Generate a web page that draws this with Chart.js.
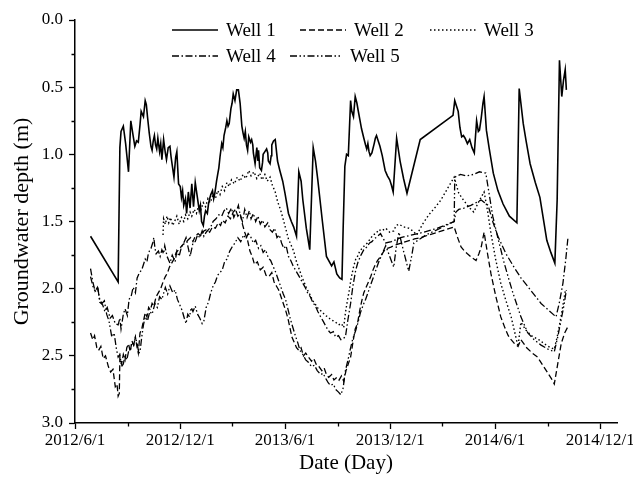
<!DOCTYPE html>
<html>
<head>
<meta charset="utf-8">
<script src="https://cdn.jsdelivr.net/npm/chart.js@4"></script>
<style>
  html, body { margin: 0; padding: 0; background: #fff; }
  canvas { display: block; }
</style>
</head>
<body>
<canvas id="chart" width="633" height="488"></canvas>
<script>
// x values are days after 2012/6/1, y values are groundwater depth in metres
const startDate = '2012/6/1';
const endDate = '2014/12/30';
const xTickLabels = ['2012/6/1', '2012/12/1', '2013/6/1', '2013/12/1', '2014/6/1', '2014/12/1'];
const xMinorLabels = ['2012/9/1', '2013/3/1', '2013/9/1', '2014/3/1', '2014/9/1'];
const yTicks = [0, 0.5, 1, 1.5, 2, 2.5, 3];
const yMinorTicks = [0.25, 0.75, 1.25, 1.75, 2.25, 2.75];
const wellNames = ['Well 1', 'Well 2', 'Well 3', 'Well 4', 'Well 5'];

const well1 = [[27,1.61],[75,1.95],[78,0.95],[80,0.83],[84,0.79],[88,0.92],[93,1.13],[97,0.75],[101,0.86],[104,0.94],[107,0.90],[110,0.91],[113,0.78],[115,0.68],[119,0.72],[122,0.60],[124,0.63],[126,0.72],[129,0.84],[132,0.94],[134,0.97],[136,0.90],[138,0.86],[140,0.93],[142,0.96],[144,0.88],[147,0.98],[149,0.92],[151,1.04],[154,0.89],[157,0.99],[159,1.04],[162,0.95],[165,0.94],[167,1.02],[169,1.08],[172,1.17],[175,1.02],[177,0.98],[180,1.22],[183,1.24],[185,1.32],[187,1.27],[189,1.38],[192,1.33],[194,1.44],[197,1.28],[200,1.40],[203,1.22],[206,1.39],[209,1.21],[212,1.30],[214,1.36],[216,1.42],[218,1.38],[220,1.50],[223,1.53],[225,1.46],[227,1.42],[230,1.44],[232,1.37],[234,1.33],[236,1.30],[239,1.27],[241,1.33],[243,1.29],[246,1.20],[248,1.15],[250,1.10],[252,1.02],[255,0.92],[257,0.95],[259,0.86],[262,0.80],[264,0.75],[266,0.79],[268,0.77],[271,0.66],[273,0.62],[275,0.55],[278,0.60],[281,0.52],[284,0.52],[287,0.62],[290,0.79],[292,0.84],[294,0.88],[296,0.83],[298,0.93],[300,0.97],[302,0.87],[305,0.91],[307,0.89],[309,0.93],[310,0.99],[313,1.07],[316,0.95],[318,1.05],[319,0.97],[321,1.10],[324,1.12],[326,1.06],[327,1.00],[330,0.98],[333,0.96],[335,0.99],[336,1.05],[339,1.07],[341,1.01],[342,0.93],[345,0.90],[348,0.89],[352,1.05],[356,1.12],[361,1.20],[365,1.29],[371,1.44],[376,1.50],[380,1.54],[385,1.61],[389,1.13],[393,1.20],[396,1.34],[402,1.55],[408,1.71],[414,0.95],[418,1.05],[422,1.19],[430,1.50],[437,1.76],[446,1.83],[450,1.80],[455,1.89],[460,1.92],[464,1.93],[466,1.56],[469,1.09],[472,1.00],[475,1.01],[479,0.60],[481,0.68],[484,0.72],[487,0.57],[490,0.62],[492,0.67],[495,0.74],[498,0.81],[502,0.88],[505,0.93],[507,0.96],[509,0.92],[511,0.98],[513,1.01],[516,0.99],[520,0.92],[522,0.88],[524,0.86],[527,0.90],[530,0.94],[534,1.01],[539,1.12],[543,1.16],[547,1.19],[550,1.23],[553,1.28],[559,0.88],[565,1.05],[571,1.18],[577,1.29],[600,0.89],[657,0.71],[660,0.60],[663,0.64],[666,0.68],[669,0.80],[672,0.87],[675,0.86],[678,0.88],[682,0.92],[686,0.89],[690,0.95],[694,0.99],[698,0.75],[701,0.83],[703,0.82],[706,0.73],[709,0.62],[711,0.57],[715,0.82],[720,0.96],[727,1.14],[735,1.27],[744,1.37],[755,1.46],[768,1.51],[772,0.51],[775,0.62],[779,0.77],[784,0.90],[791,1.07],[800,1.21],[808,1.32],[814,1.48],[820,1.64],[827,1.73],[834,1.81],[838,1.34],[842,0.30],[846,0.57],[849,0.45],[852,0.37],[854,0.52]];

const well2 = [[27,2.33],[31,2.38],[34,2.35],[38,2.44],[41,2.46],[45,2.43],[49,2.52],[53,2.50],[58,2.58],[62,2.62],[66,2.60],[70,2.73],[73,2.71],[75,2.80],[77,2.78],[78,2.51],[81,2.56],[84,2.49],[87,2.53],[90,2.44],[93,2.41],[96,2.47],[99,2.39],[102,2.42],[105,2.36],[108,2.44],[110,2.48],[113,2.33],[116,2.30],[119,2.24],[122,2.18],[125,2.21],[128,2.14],[131,2.16],[134,2.11],[137,2.13],[141,2.06],[145,2.03],[149,2.00],[153,1.95],[157,1.91],[161,1.88],[164,1.84],[168,1.81],[172,1.78],[176,1.73],[180,1.71],[184,1.69],[188,1.67],[192,1.66],[196,1.64],[201,1.62],[205,1.65],[209,1.61],[214,1.59],[219,1.61],[224,1.57],[229,1.56],[234,1.58],[239,1.54],[244,1.55],[249,1.51],[253,1.53],[256,1.49],[261,1.51],[266,1.46],[270,1.48],[275,1.43],[279,1.41],[283,1.46],[287,1.44],[291,1.52],[295,1.58],[300,1.64],[304,1.72],[308,1.76],[312,1.82],[317,1.80],[322,1.86],[327,1.84],[332,1.90],[337,1.91],[342,1.88],[346,1.95],[350,1.98],[354,2.01],[358,2.06],[362,2.11],[366,2.16],[370,2.22],[374,2.30],[377,2.36],[381,2.40],[385,2.44],[389,2.46],[393,2.44],[397,2.50],[401,2.48],[406,2.51],[411,2.54],[415,2.52],[420,2.57],[424,2.58],[429,2.61],[433,2.59],[437,2.64],[441,2.66],[446,2.64],[450,2.68],[455,2.66],[459,2.68],[463,2.65],[467,2.69],[471,2.61],[475,2.56],[479,2.51],[483,2.40],[487,2.30],[491,2.26],[495,2.16],[499,2.08],[502,2.03],[506,1.99],[510,1.95],[514,1.91],[518,1.86],[522,1.82],[526,1.79],[531,1.76],[537,1.72],[543,1.70],[549,1.69],[560,1.67],[575,1.65],[590,1.63],[601,1.62],[615,1.60],[630,1.58],[645,1.56],[659,1.54],[665,1.62],[671,1.69],[677,1.72],[682,1.74],[690,1.77],[697,1.79],[702,1.74],[706,1.69],[711,1.58],[717,1.74],[723,1.89],[731,2.05],[740,2.21],[747,2.29],[753,2.35],[758,2.38],[764,2.41],[770,2.43],[775,2.38],[785,2.44],[795,2.48],[804,2.51],[813,2.57],[822,2.63],[828,2.67],[833,2.71],[839,2.56],[845,2.41],[851,2.33],[857,2.28]];

const well3 = [[153,1.60],[154,1.48],[157,1.52],[160,1.46],[163,1.51],[166,1.47],[170,1.53],[174,1.49],[177,1.46],[181,1.52],[185,1.47],[189,1.50],[192,1.45],[196,1.48],[200,1.43],[203,1.46],[207,1.41],[211,1.44],[215,1.38],[219,1.41],[223,1.36],[227,1.39],[231,1.33],[235,1.36],[240,1.30],[244,1.33],[248,1.27],[252,1.30],[256,1.24],[260,1.27],[264,1.21],[268,1.24],[272,1.19],[277,1.22],[282,1.17],[287,1.20],[292,1.15],[297,1.18],[302,1.12],[306,1.16],[311,1.13],[316,1.18],[321,1.14],[325,1.19],[330,1.15],[334,1.20],[339,1.17],[343,1.23],[348,1.28],[352,1.35],[357,1.41],[361,1.47],[366,1.55],[371,1.63],[375,1.67],[380,1.72],[385,1.80],[390,1.86],[395,1.92],[400,1.97],[404,2.01],[409,2.05],[413,2.09],[417,2.11],[421,2.14],[426,2.16],[431,2.18],[435,2.20],[440,2.21],[444,2.23],[449,2.24],[453,2.25],[458,2.27],[463,2.26],[467,2.29],[470,2.18],[473,2.10],[476,2.03],[480,1.92],[484,1.84],[488,1.78],[491,1.76],[495,1.72],[499,1.70],[503,1.68],[508,1.66],[513,1.63],[518,1.60],[523,1.59],[528,1.56],[533,1.57],[540,1.55],[547,1.58],[554,1.57],[558,1.53],[563,1.52],[571,1.54],[580,1.55],[587,1.57],[594,1.60],[604,1.52],[615,1.45],[625,1.40],[636,1.34],[648,1.25],[659,1.17],[663,1.23],[667,1.29],[675,1.34],[684,1.39],[693,1.43],[702,1.35],[711,1.28],[717,1.42],[723,1.59],[731,1.78],[740,1.96],[749,2.09],[758,2.21],[764,2.32],[770,2.43],[775,2.25],[784,2.31],[793,2.35],[806,2.38],[819,2.42],[827,2.44],[833,2.45],[839,2.34],[845,2.20],[849,2.10],[852,2.02]];

const well4 = [[27,1.85],[31,1.95],[35,2.02],[40,2.00],[43,2.10],[48,2.12],[52,2.17],[56,2.14],[61,2.22],[65,2.20],[70,2.26],[75,2.27],[78,2.22],[80,2.30],[84,2.19],[87,2.15],[91,2.20],[94,2.08],[98,2.05],[101,1.99],[105,2.03],[108,1.92],[112,1.88],[116,1.86],[119,1.82],[122,1.78],[125,1.80],[127,1.75],[130,1.71],[132,1.70],[135,1.66],[137,1.62],[139,1.70],[141,1.74],[145,1.72],[148,1.76],[151,1.71],[154,1.74],[156,1.68],[160,1.76],[165,1.81],[169,1.75],[174,1.80],[177,1.72],[181,1.76],[185,1.69],[189,1.66],[193,1.62],[197,1.70],[200,1.76],[205,1.66],[209,1.65],[213,1.60],[217,1.62],[221,1.57],[224,1.61],[228,1.58],[232,1.56],[236,1.54],[240,1.50],[245,1.48],[250,1.45],[255,1.46],[259,1.42],[263,1.40],[267,1.44],[272,1.40],[276,1.47],[280,1.43],[284,1.38],[287,1.45],[291,1.50],[295,1.41],[299,1.47],[303,1.42],[306,1.48],[310,1.44],[314,1.50],[318,1.46],[322,1.52],[326,1.49],[330,1.54],[335,1.51],[339,1.56],[343,1.58],[347,1.55],[351,1.62],[355,1.60],[359,1.66],[363,1.70],[367,1.68],[371,1.76],[375,1.79],[379,1.83],[383,1.86],[387,1.89],[391,1.92],[396,1.96],[400,1.99],[404,2.03],[409,2.06],[413,2.10],[418,2.13],[422,2.17],[427,2.21],[431,2.24],[436,2.28],[440,2.31],[444,2.33],[449,2.32],[453,2.36],[458,2.35],[462,2.38],[466,2.37],[470,2.36],[474,2.24],[479,2.11],[483,1.98],[488,1.86],[492,1.80],[497,1.75],[502,1.71],[507,1.69],[512,1.66],[516,1.65],[520,1.63],[526,1.61],[531,1.59],[540,1.66],[550,1.65],[566,1.62],[586,1.60],[606,1.58],[630,1.55],[659,1.50],[662,1.43],[667,1.41],[676,1.40],[688,1.38],[697,1.36],[706,1.34],[712,1.36],[718,1.38],[726,1.50],[735,1.61],[749,1.74],[763,1.84],[775,1.92],[788,1.99],[799,2.05],[810,2.11],[823,2.16],[836,2.21],[842,2.10],[848,1.96],[853,1.78],[857,1.61]];

const well5 = [[27,1.91],[31,1.98],[35,2.02],[39,1.99],[43,2.08],[47,2.11],[51,2.09],[55,2.19],[59,2.24],[64,2.36],[68,2.33],[72,2.45],[75,2.51],[78,2.49],[81,2.58],[84,2.56],[87,2.50],[90,2.53],[93,2.47],[96,2.46],[99,2.40],[102,2.42],[105,2.36],[108,2.41],[111,2.48],[113,2.47],[116,2.36],[119,2.27],[122,2.21],[126,2.24],[130,2.17],[134,2.19],[139,2.11],[143,2.14],[147,2.06],[151,2.08],[155,2.02],[157,1.99],[161,2.04],[165,1.98],[170,2.03],[174,2.01],[178,2.08],[182,2.12],[186,2.16],[190,2.22],[193,2.26],[196,2.19],[199,2.21],[202,2.14],[205,2.17],[209,2.13],[213,2.19],[217,2.22],[221,2.26],[224,2.24],[228,2.14],[232,2.10],[236,2.03],[240,1.98],[244,1.95],[248,1.90],[252,1.88],[256,1.86],[260,1.80],[264,1.78],[269,1.72],[273,1.69],[278,1.66],[283,1.62],[288,1.65],[293,1.60],[297,1.63],[301,1.59],[305,1.61],[310,1.66],[314,1.64],[319,1.70],[323,1.68],[327,1.73],[331,1.71],[336,1.77],[340,1.79],[345,1.84],[349,1.88],[353,1.93],[358,1.99],[362,2.04],[366,2.08],[370,2.15],[374,2.22],[378,2.28],[383,2.35],[387,2.40],[391,2.46],[396,2.49],[401,2.53],[406,2.55],[411,2.58],[416,2.57],[421,2.61],[427,2.64],[431,2.63],[436,2.67],[440,2.70],[444,2.72],[449,2.71],[453,2.75],[458,2.77],[462,2.79],[466,2.74],[470,2.61],[475,2.52],[479,2.44],[483,2.37],[488,2.31],[492,2.25],[496,2.18],[501,2.12],[505,2.08],[510,2.02],[514,1.97],[519,1.91],[523,1.86],[528,1.80],[533,1.75],[540,1.68],[547,1.76],[554,1.84],[558,1.70],[563,1.58],[571,1.72],[580,1.87],[585,1.76],[589,1.66],[610,1.60],[635,1.55],[659,1.50],[660,1.17],[670,1.15],[680,1.16],[692,1.15],[703,1.13],[714,1.14],[720,1.30],[726,1.46],[736,1.64],[746,1.81],[754,1.93],[761,2.03],[768,2.12],[775,2.21],[781,2.27],[787,2.33],[798,2.38],[810,2.42],[822,2.45],[833,2.47],[839,2.36],[845,2.23],[850,2.12],[854,2.01]];

const wellData = [well1, well2, well3, well4, well5];
const dashes = [[], [6, 3], [1.5, 2.5], [7, 2.5, 1.5, 2.5], [7, 2.5, 1.5, 2.5, 1.5, 2.5]];
const widths = [1.6, 1.3, 1.4, 1.3, 1.3];

const FONT = "'Liberation Serif', 'Times New Roman', serif";

function toDay(s) {
  const [y, m, d] = s.split('/').map(Number);
  const [y0, m0, d0] = startDate.split('/').map(Number);
  return Math.round((Date.UTC(y, m - 1, d) - Date.UTC(y0, m0 - 1, d0)) / 86400000);
}
const xTickDays = xTickLabels.map(toDay);
const xMinorDays = xMinorLabels.map(toDay);

// legend drawn inside the plot, two rows like the original
const legendPos = [
  { x: 172, y: 30, len: 46 },
  { x: 300, y: 30, len: 46 },
  { x: 430, y: 30, len: 46 },
  { x: 172, y: 56, len: 46 },
  { x: 290, y: 56, len: 52 }
];

const extras = {
  id: 'extras',
  afterDraw(chart) {
    const ctx = chart.ctx;
    const xs = chart.scales.x, ys = chart.scales.y;
    ctx.save();
    ctx.strokeStyle = '#000';
    ctx.lineWidth = 1.3;
    // minor ticks
    ctx.beginPath();
    xMinorDays.forEach(d => {
      const px = Math.round(xs.getPixelForValue(d)) + 0.5;
      ctx.moveTo(px, xs.top);
      ctx.lineTo(px, xs.top + 3.5);
    });
    yMinorTicks.forEach(v => {
      const py = Math.round(ys.getPixelForValue(v)) + 0.5;
      ctx.moveTo(ys.right, py);
      ctx.lineTo(ys.right - 3.5, py);
    });
    ctx.stroke();
    // legend
    ctx.font = '19px ' + FONT;
    ctx.fillStyle = '#000';
    ctx.textBaseline = 'middle';
    legendPos.forEach((p, i) => {
      ctx.setLineDash(dashes[i]);
      ctx.lineWidth = widths[i];
      ctx.beginPath();
      ctx.moveTo(p.x, p.y);
      ctx.lineTo(p.x + p.len, p.y);
      ctx.stroke();
      ctx.fillText(wellNames[i], p.x + p.len + 8, p.y + 1);
    });
    ctx.restore();
  }
};

new Chart(document.getElementById('chart').getContext('2d'), {
  type: 'line',
  data: {
    datasets: wellData.map((pts, i) => ({
      label: wellNames[i],
      data: pts.map(([d, v]) => ({ x: d, y: v })),
      borderColor: '#000',
      borderWidth: widths[i],
      borderDash: dashes[i],
      pointRadius: 0,
      tension: 0,
      fill: false
    }))
  },
  options: {
    responsive: false,
    animation: false,
    events: [],
    layout: { padding: { top: 20, right: 16, left: 0, bottom: 0 } },
    plugins: { legend: { display: false }, tooltip: { enabled: false } },
    scales: {
      x: {
        type: 'linear',
        position: 'bottom',
        min: 0,
        max: toDay(endDate),
        border: { display: true, color: '#000', width: 1.5 },
        grid: { display: true, drawOnChartArea: false, drawTicks: true, tickLength: 6, tickColor: '#000', tickWidth: 1.3 },
        ticks: {
          color: '#000',
          font: { family: FONT, size: 17 },
          padding: 1,
          autoSkip: false,
          maxRotation: 0,
          callback: (v) => {
            const i = xTickDays.indexOf(v);
            return i >= 0 ? xTickLabels[i] : '';
          }
        },
        afterBuildTicks: (s) => { s.ticks = xTickDays.map(v => ({ value: v })); },
        afterFit: (s) => { s.height = 65; s.paddingLeft = 0; s.paddingRight = 0; },
        title: {
          display: true,
          text: 'Date (Day)',
          color: '#000',
          font: { family: FONT, size: 21 },
          padding: { top: 0, bottom: 12 }
        }
      },
      y: {
        type: 'linear',
        reverse: true,
        min: 0,
        max: 3,
        border: { display: true, color: '#000', width: 1.5 },
        grid: { display: true, drawOnChartArea: false, drawTicks: true, tickLength: 6, tickColor: '#000', tickWidth: 1.3 },
        ticks: {
          color: '#000',
          font: { family: FONT, size: 17 },
          padding: 6,
          callback: (v) => v.toFixed(1)
        },
        afterBuildTicks: (s) => { s.ticks = yTicks.map(v => ({ value: v })); },
        afterFit: (s) => { s.width = 75; s.paddingTop = 0; s.paddingBottom = 0; },
        title: {
          display: true,
          text: 'Groundwater depth (m)',
          color: '#000',
          font: { family: FONT, size: 22 },
          padding: { top: 9, bottom: 0 }
        }
      }
    }
  },
  plugins: [extras]
});
</script>
</body>
</html>
